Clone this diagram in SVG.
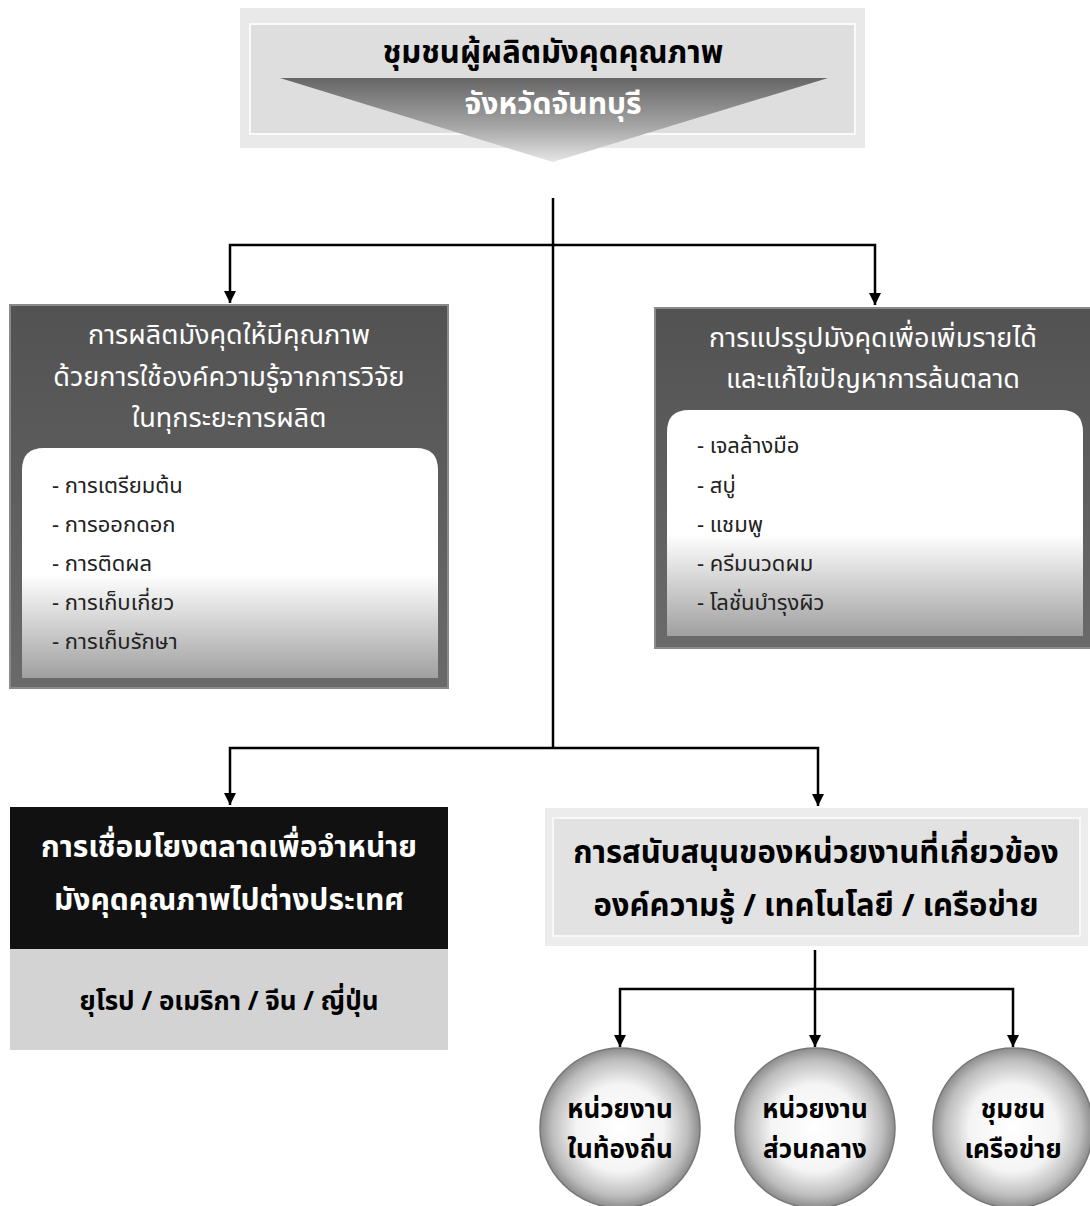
<svg xmlns="http://www.w3.org/2000/svg" width="1090" height="1206" viewBox="0 0 1090 1206">
<defs>
<linearGradient id="triG" x1="0" y1="0" x2="0" y2="1">
<stop offset="0" stop-color="#666"/>
<stop offset="0.6" stop-color="#a8a8a8"/>
<stop offset="1" stop-color="#e6e6e6"/>
</linearGradient>
<linearGradient id="hdrG" x1="0" y1="0" x2="0" y2="1">
<stop offset="0" stop-color="#525252"/>
<stop offset="1" stop-color="#6a6a6a"/>
</linearGradient>
<linearGradient id="panelG" x1="0" y1="0" x2="0" y2="1">
<stop offset="0" stop-color="#ffffff"/>
<stop offset="0.55" stop-color="#ffffff"/>
<stop offset="1" stop-color="#a0a0a0"/>
</linearGradient>
<radialGradient id="ballG" cx="0.5" cy="0.5" r="0.5">
<stop offset="0" stop-color="#ffffff"/>
<stop offset="0.55" stop-color="#f4f4f4"/>
<stop offset="0.85" stop-color="#bdbdbd"/>
<stop offset="1" stop-color="#8c8c8c"/>
</radialGradient>
<marker id="arr" viewBox="0 0 10 10" refX="10" refY="5" markerWidth="5" markerHeight="5" orient="auto" markerUnits="strokeWidth">
<path d="M0,0 L10,5 L0,10 z" fill="#000"/>
</marker>
</defs>
<style>
.th{font-family:"Noto Sans Thai","Noto Sans","Loma","Garuda","DejaVu Sans",sans-serif;}
.b{font-weight:bold;}
.w{fill:#fff;}
.k{fill:#000;}
.hd{font-size:27px;fill:#fff;}
.li{font-size:22px;fill:#222;}
.ci{font-size:26px;font-weight:bold;fill:#000;}
.ln{stroke:#000;stroke-width:2.5;fill:none;}
.ar{stroke:#000;stroke-width:2.5;fill:none;marker-end:url(#arr);}
.ball{fill:url(#ballG);stroke:#777;stroke-width:1.5;}
</style>
<rect width="1090" height="1206" fill="#fff"/>

<g id="connectors">
<line class="ln" x1="553" y1="198" x2="553" y2="748"/>
<polyline class="ar" points="553,245 230,245 230,303"/>
<polyline class="ar" points="553,245 875,245 875,305"/>
<polyline class="ar" points="553,748 230,748 230,805"/>
<polyline class="ar" points="553,748 818,748 818,806"/>
<line class="ln" x1="815" y1="950" x2="815" y2="989"/>
<polyline class="ar" points="815,989 620,989 620,1047"/>
<line class="ar" x1="815" y1="989" x2="815" y2="1047"/>
<polyline class="ar" points="815,989 1013,989 1013,1047"/>
</g>

<g id="title">
<rect x="240" y="8" width="625" height="140" fill="#e9e9e9"/>
<rect x="250" y="24" width="605" height="110" fill="#dedede" stroke="#fafafa" stroke-width="2"/>
<polygon points="280,78 828,78 553,162" fill="url(#triG)"/>
<text class="th b k" x="553" y="63" text-anchor="middle" font-size="31">ชุมชนผู้ผลิตมังคุดคุณภาพ</text>
<text class="th b w" x="553" y="114" text-anchor="middle" font-size="30">จังหวัดจันทบุรี</text>
</g>

<g id="production">
<rect x="10" y="305" width="438" height="383" fill="url(#hdrG)" stroke="#8a8a8a" stroke-width="2"/>
<path d="M22,678 L22,470 Q22,448 44,448 L416,448 Q438,448 438,470 L438,678 Z" fill="url(#panelG)"/>
<text class="th hd" x="229" y="344" text-anchor="middle">การผลิตมังคุดให้มีคุณภาพ</text>
<text class="th hd" x="229" y="386" text-anchor="middle">ด้วยการใช้องค์ความรู้จากการวิจัย</text>
<text class="th hd" x="229" y="427" text-anchor="middle">ในทุกระยะการผลิต</text>
<text class="th li" x="52" y="493">- การเตรียมต้น</text>
<text class="th li" x="52" y="532">- การออกดอก</text>
<text class="th li" x="52" y="571">- การติดผล</text>
<text class="th li" x="52" y="610">- การเก็บเกี่ยว</text>
<text class="th li" x="52" y="649">- การเก็บรักษา</text>
</g>

<g id="processing">
<rect x="655" y="308" width="440" height="340" fill="url(#hdrG)" stroke="#8a8a8a" stroke-width="2"/>
<path d="M667,636 L667,432 Q667,410 689,410 L1061,410 Q1083,410 1083,432 L1083,636 Z" fill="url(#panelG)"/>
<text class="th hd" x="873" y="347" text-anchor="middle">การแปรรูปมังคุดเพื่อเพิ่มรายได้</text>
<text class="th hd" x="873" y="388" text-anchor="middle">และแก้ไขปัญหาการล้นตลาด</text>
<text class="th li" x="697" y="453">- เจลล้างมือ</text>
<text class="th li" x="697" y="493">- สบู่</text>
<text class="th li" x="697" y="532">- แชมพู</text>
<text class="th li" x="697" y="571">- ครีมนวดผม</text>
<text class="th li" x="697" y="610">- โลชั่นบำรุงผิว</text>
</g>

<g id="export">
<rect x="10" y="807" width="438" height="142" fill="#111"/>
<rect x="10" y="949" width="438" height="101" fill="#d3d3d3"/>
<text class="th b w" x="229" y="857" text-anchor="middle" font-size="30">การเชื่อมโยงตลาดเพื่อจำหน่าย</text>
<text class="th b w" x="229" y="910" text-anchor="middle" font-size="30">มังคุดคุณภาพไปต่างประเทศ</text>
<text class="th b k" x="229" y="1010" text-anchor="middle" font-size="26">ยุโรป / อเมริกา / จีน / ญี่ปุ่น</text>
</g>

<g id="support">
<rect x="545" y="808" width="543" height="138" fill="#ececec"/>
<rect x="553" y="818" width="527" height="118" fill="#e2e2e2" stroke="#f8f8f8" stroke-width="2"/>
<text class="th b k" x="816" y="863" text-anchor="middle" font-size="31">การสนับสนุนของหน่วยงานที่เกี่ยวข้อง</text>
<text class="th b k" x="816" y="916" text-anchor="middle" font-size="31">องค์ความรู้ / เทคโนโลยี / เครือข่าย</text>
</g>

<g id="local">
<circle class="ball" cx="620" cy="1128" r="80"/>
<text class="th ci" x="620" y="1118" text-anchor="middle">หน่วยงาน</text>
<text class="th ci" x="620" y="1158" text-anchor="middle">ในท้องถิ่น</text>
</g>
<g id="central">
<circle class="ball" cx="815" cy="1128" r="80"/>
<text class="th ci" x="815" y="1118" text-anchor="middle">หน่วยงาน</text>
<text class="th ci" x="815" y="1158" text-anchor="middle">ส่วนกลาง</text>
</g>
<g id="network">
<circle class="ball" cx="1013" cy="1128" r="80"/>
<text class="th ci" x="1013" y="1118" text-anchor="middle">ชุมชน</text>
<text class="th ci" x="1013" y="1158" text-anchor="middle">เครือข่าย</text>
</g>
</svg>
